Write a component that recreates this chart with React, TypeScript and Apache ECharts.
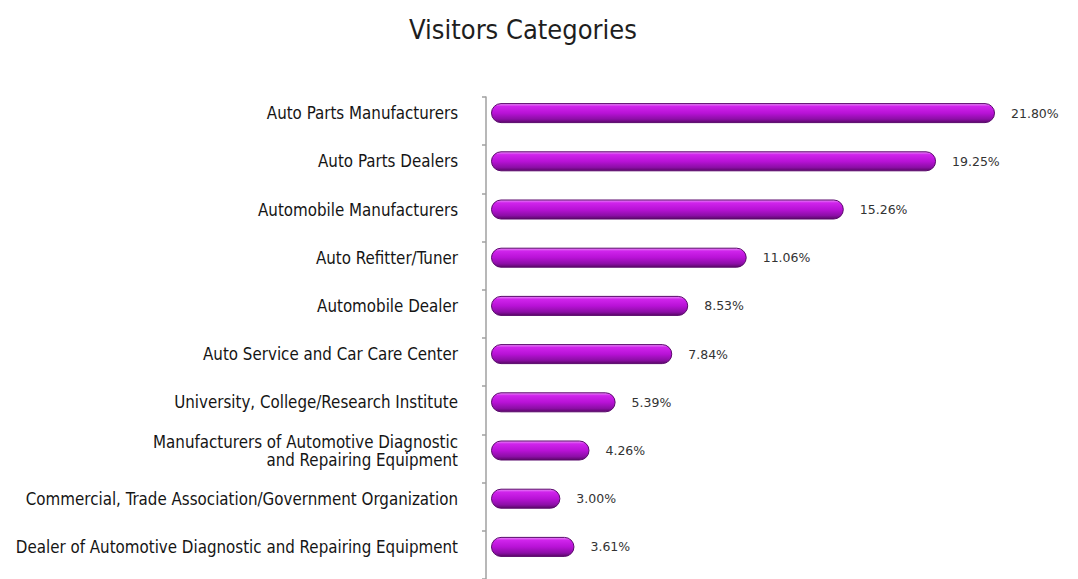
import React, { useEffect, useRef } from "react";
import * as echarts from "echarts";

const categories = [
  "Auto Parts Manufacturers",
  "Auto Parts Dealers",
  "Automobile Manufacturers",
  "Auto Refitter/Tuner",
  "Automobile Dealer",
  "Auto Service and Car Care Center",
  "University, College/Research Institute",
  "Manufacturers of Automotive Diagnostic\nand Repairing Equipment",
  "Commercial, Trade Association/Government Organization",
  "Dealer of Automotive Diagnostic and Repairing Equipment",
];
const values = [21.8, 19.25, 15.26, 11.06, 8.53, 7.84, 5.39, 4.26, 3.0, 3.61];

const FONT = "'DejaVu Sans Condensed', 'DejaVu Sans', sans-serif";

export default function App() {
  const ref = useRef<HTMLDivElement>(null);
  useEffect(() => {
    if (!ref.current) return;
    const chart = echarts.init(ref.current, null, { renderer: "svg" });
    chart.setOption({
      animation: false,
      backgroundColor: "#ffffff",
      title: {
        text: "Visitors Categories",
        left: 518,
        textAlign: "center",
        top: 11,
        textStyle: {
          fontFamily: FONT,
          fontSize: 27,
          fontWeight: "normal",
          color: "#1e1e1e",
        },
      },
      grid: [
        { left: 491, top: 89, height: 482, width: 578 },
        { left: 486, top: 97, height: 482, width: 578 },
      ],
      xAxis: [
        { type: "value", min: 0, max: 25, show: false, gridIndex: 0 },
        { type: "value", min: 0, max: 25, show: false, gridIndex: 1 },
      ],
      yAxis: [
        {
          type: "category",
          gridIndex: 0,
          data: categories,
          inverse: true,
          axisLine: { show: false },
          axisTick: { show: false },
          splitLine: { show: false },
          axisLabel: {
            margin: 33,
            fontFamily: FONT,
            fontSize: 16.8,
            color: "#151515",
            lineHeight: 18,
          },
        },
        {
          type: "category",
          gridIndex: 1,
          data: categories,
          inverse: true,
          axisLine: { show: true, lineStyle: { color: "#a0a0a0", width: 1.5 } },
          axisTick: { show: true, length: 4, lineStyle: { color: "#a0a0a0", width: 1.5 } },
          splitLine: { show: false },
          axisLabel: { show: false },
        },
      ],
      series: [
        {
          type: "bar",
          xAxisIndex: 0,
          yAxisIndex: 0,
          data: values,
          barWidth: 20,
          itemStyle: {
            borderRadius: 10,
            borderColor: "#5a086c",
            borderWidth: 1,
            color: new echarts.graphic.LinearGradient(0, 0, 0, 1, [
              { offset: 0, color: "#ea90f8" },
              { offset: 0.15, color: "#d024ec" },
              { offset: 0.5, color: "#b812d6" },
              { offset: 0.82, color: "#8c0ea6" },
              { offset: 1, color: "#5a0868" },
            ]),
          },
          label: {
            show: true,
            position: "right",
            distance: 16,
            formatter: (p: any) => p.value.toFixed(2) + "%",
            fontFamily: "'DejaVu Sans', sans-serif",
            fontSize: 12.5,
            color: "#333333",
          },
        },
      ],
    });
    return () => chart.dispose();
  }, []);
  return (
    <div
      ref={ref}
      style={{ position: "fixed", left: 0, top: 0, width: 1078, height: 579 }}
    />
  );
}
